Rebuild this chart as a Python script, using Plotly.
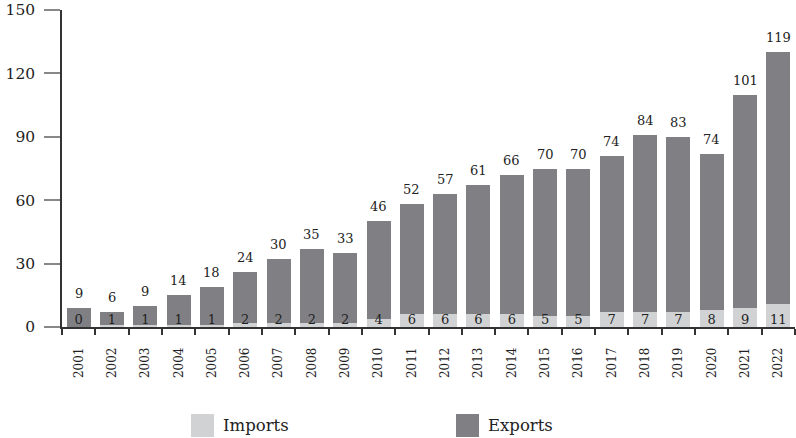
import plotly.graph_objects as go

years = [str(y) for y in range(2001, 2023)]
imports = [0, 1, 1, 1, 1, 2, 2, 2, 2, 4, 6, 6, 6, 6, 5, 5, 7, 7, 7, 8, 9, 11]
exports = [9, 6, 9, 14, 18, 24, 30, 35, 33, 46, 52, 57, 61, 66, 70, 70, 74, 84, 83, 74, 101, 119]
y_ticks = [0, 30, 60, 90, 120, 150]

LIGHT = "#d1d2d4"
DARK = "#808084"
FONT = "DejaVu Serif"
TXT = "#222222"

totals = [i + e for i, e in zip(imports, exports)]

fig = go.Figure()
fig.add_trace(go.Bar(x=years, y=imports, name="Imports", marker=dict(color=LIGHT, line=dict(width=0)), width=0.72))
fig.add_trace(go.Bar(x=years, y=exports, name="Exports", marker=dict(color=DARK, line=dict(width=0)), width=0.72))

fig.add_trace(go.Scatter(x=years, y=[0] * len(years), mode="text", text=[str(v) for v in imports],
                         textposition="top center", textfont=dict(family=FONT, size=13, color=TXT),
                         cliponaxis=False, showlegend=False, hoverinfo="skip"))

for idx, (tot, ex) in enumerate(zip(totals, exports)):
    fig.add_annotation(x=idx, y=tot, text=str(ex), showarrow=False, yanchor="bottom",
                       yshift=5, font=dict(family=FONT, size=13, color=TXT))

fig.update_layout(
    barmode="stack",
    width=796, height=438,
    margin=dict(l=62, r=1, t=10, b=111, autoexpand=False),
    plot_bgcolor="white", paper_bgcolor="white",
    showlegend=False,
    font=dict(family=FONT, color=TXT),
)
fig.update_yaxes(range=[0, 150], tickvals=y_ticks, showgrid=False, zeroline=False, automargin=False,
                 showline=True, linecolor="#333333", linewidth=1.5,
                 ticks="outside", ticklen=16, tickcolor="#888888", tickwidth=1.5,
                 ticklabelstandoff=6,
                 tickfont=dict(family=FONT, size=15.5, color=TXT))
fig.update_xaxes(type="category", range=[-0.5, len(years) - 0.5], showgrid=False, showline=True,
                 linecolor="#333333", linewidth=1.5, automargin=False,
                 ticks="outside", ticklen=6, tickson="boundaries", tickcolor="#333333", tickwidth=1.5,
                 tickangle=-90, ticklabelstandoff=14, tickfont=dict(family=FONT, size=12, color=TXT))

# legend drawn manually
def px_x(x):
    return (x - 62) / 733

def px_y(y):
    return (327 - y) / 317

for x0, label, col in [(191, "Imports", LIGHT), (456, "Exports", DARK)]:
    fig.add_shape(type="rect", xref="paper", yref="paper",
                  x0=px_x(x0), x1=px_x(x0 + 23), y0=px_y(437), y1=px_y(414),
                  fillcolor=col, line=dict(width=0))
    fig.add_annotation(xref="paper", yref="paper", x=px_x(x0 + 30), y=px_y(425.5),
                       text=label, showarrow=False, xanchor="left", yanchor="middle",
                       font=dict(family=FONT, size=16.5, color=TXT))

fig.write_html("out.html", config={"displayModeBar": False},
               post_script="document.body.style.margin='0';")
